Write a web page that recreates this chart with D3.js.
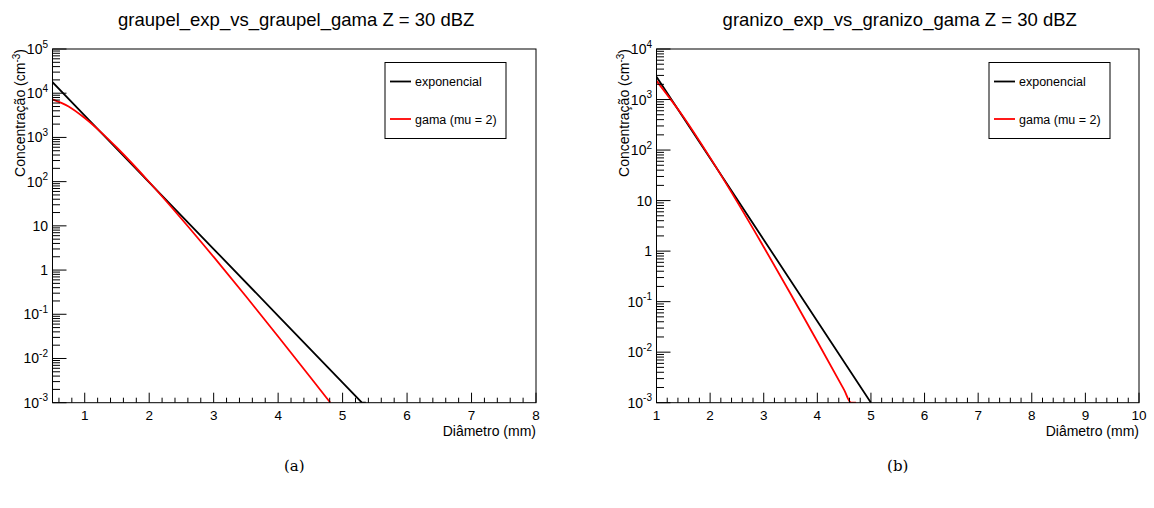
<!DOCTYPE html>
<html>
<head>
<meta charset="utf-8">
<script src="https://cdn.jsdelivr.net/npm/d3@7"></script>
<style>
  html, body { margin: 0; padding: 0; background: #fff; }
  svg { display: block; }
  text { font-family: "Liberation Sans", Arial, sans-serif; fill: #000; }
  .caption { font-family: "DejaVu Serif", "Liberation Serif", serif; }
</style>
</head>
<body>
<svg id="chart" width="1154" height="508"></svg>
<script>
// Panel titles and captions
const titles = ["graupel_exp_vs_graupel_gama Z = 30 dBZ", "granizo_exp_vs_granizo_gama Z = 30 dBZ"];
const captions = ["(a)", "(b)"];
const legendLabels = ["exponencial", "gama (mu = 2)"];
const xLabel = "Diâmetro (mm)";

// Graupel: diameter (mm) and concentration (cm^-3)
const graupelExpD = [0.5, 1, 2, 3, 4, 5, 5.3, 5.36];
const graupelExpN = [17800, 3130, 96.6, 2.99, 0.0923, 0.00285, 0.00100, 0.00085];
const graupelGamD = [0.5, 0.75, 1, 1.25, 1.5, 2, 2.5, 3, 3.5, 4, 4.5, 4.81];
const graupelGamN = [7240, 5010, 2740, 1320, 584, 98.2, 14.5, 1.98, 0.255, 0.0315, 0.00377, 0.00100];

// Hail (granizo)
const granizoExpD = [1, 2, 3, 4, 5];
const granizoExpN = [2820, 68.8, 1.68, 0.041, 0.00100];
const granizoGamD = [1, 1.5, 2, 2.5, 3, 3.5, 4, 4.5, 4.63, 4.72];
const granizoGamN = [2344, 458, 70.8, 9.64, 1.21, 0.143, 0.0163, 0.00179, 0.00100, 0.00080];

// Axis domains and ticks
const graupelXDomain = [0.5, 8];
const graupelYDomain = [1e-3, 1e5];
const graupelXTicks = [1, 2, 3, 4, 5, 6, 7, 8];
const granizoXDomain = [1, 10];
const granizoYDomain = [1e-3, 1e4];
const granizoXTicks = [1, 2, 3, 4, 5, 6, 7, 8, 9, 10];

const svg = d3.select("#chart");

const panels = [
  {
    title: titles[0], caption: captions[0],
    x0: 52.5, x1: 536, y0: 49, y1: 402.7,
    xDomain: graupelXDomain, yDomain: graupelYDomain, xTicks: graupelXTicks,
    legend: { x: 385, y: 62.5, w: 121, h: 76 },
    series: [
      { d: graupelExpD, n: graupelExpN, color: "#000000", curve: d3.curveLinear },
      { d: graupelGamD, n: graupelGamN, color: "#ff0000", curve: d3.curveMonotoneX }
    ]
  },
  {
    title: titles[1], caption: captions[1],
    x0: 656.5, x1: 1139, y0: 49, y1: 402.7,
    xDomain: granizoXDomain, yDomain: granizoYDomain, xTicks: granizoXTicks,
    legend: { x: 989, y: 62.5, w: 121, h: 76 },
    series: [
      { d: granizoExpD, n: granizoExpN, color: "#000000", curve: d3.curveLinear },
      { d: granizoGamD, n: granizoGamN, color: "#ff0000", curve: d3.curveMonotoneX }
    ]
  }
];

function powerLabel(sel, exp) {
  // 10^k labels, with "1" and "10" written plainly
  if (exp === 0) { sel.text("1"); return; }
  if (exp === 1) { sel.text("10"); return; }
  sel.append("tspan").text("10");
  sel.append("tspan").attr("font-size", "10px").attr("dy", "-6.5").text(String(exp));
}

panels.forEach((p, i) => {
  const g = svg.append("g");
  const x = d3.scaleLinear().domain(p.xDomain).range([p.x0, p.x1]);
  const y = d3.scaleLog().domain(p.yDomain).range([p.y1, p.y0]).clamp(true);
  const cx = (p.x0 + p.x1) / 2;

  // Title
  g.append("text").attr("x", cx + 2).attr("y", 26).attr("text-anchor", "middle")
    .attr("font-size", "18.5px").text(p.title);

  // Curves, clipped to the frame
  const clipId = "clip" + i;
  g.append("clipPath").attr("id", clipId).append("rect")
    .attr("x", p.x0).attr("y", p.y0).attr("width", p.x1 - p.x0).attr("height", p.y1 - p.y0);
  const curves = g.append("g").attr("clip-path", `url(#${clipId})`);
  p.series.forEach(s => {
    const pts = s.d.map((dv, k) => [dv, s.n[k]]);
    const line = d3.line().x(v => x(v[0])).y(v => y(v[1])).curve(s.curve);
    curves.append("path").attr("d", line(pts)).attr("fill", "none")
      .attr("stroke", s.color).attr("stroke-width", 1.8).attr("stroke-linejoin", "round");
  });

  // X axis: ticks point up into the frame
  const xMinor = d3.range(Math.ceil(p.xDomain[0] / 0.2) * 0.2, p.xDomain[1] + 1e-9, 0.2)
    .map(v => Math.round(v * 10) / 10);
  const xAxisG = g.append("g");
  xAxisG.selectAll("line.minor").data(xMinor).join("line")
    .attr("x1", d => x(d)).attr("x2", d => x(d))
    .attr("y1", p.y1).attr("y2", d => p.y1 - (Number.isInteger(d) ? 10 : 5))
    .attr("stroke", "#000").attr("stroke-width", 1);
  xAxisG.selectAll("text").data(p.xTicks).join("text")
    .attr("x", d => x(d)).attr("y", p.y1 + 17).attr("text-anchor", "middle")
    .attr("font-size", "13.5px").text(d => d);
  g.append("text").attr("x", p.x1).attr("y", p.y1 + 33).attr("text-anchor", "end")
    .attr("font-size", "14px").text(xLabel);

  // Y axis: log ticks point right into the frame
  const e0 = Math.round(Math.log10(p.yDomain[0]));
  const e1 = Math.round(Math.log10(p.yDomain[1]));
  const majors = d3.range(e0, e1 + 1);
  const minors = [];
  for (let e = e0; e < e1; e++) for (let m = 2; m <= 9; m++) minors.push(m * Math.pow(10, e));
  const yAxisG = g.append("g");
  yAxisG.selectAll("line.min").data(minors).join("line")
    .attr("x1", p.x0).attr("x2", p.x0 + 7.5)
    .attr("y1", d => y(d)).attr("y2", d => y(d))
    .attr("stroke", "#000").attr("stroke-width", 1);
  yAxisG.selectAll("line.maj").data(majors).join("line")
    .attr("x1", p.x0).attr("x2", p.x0 + 14)
    .attr("y1", d => y(Math.pow(10, d))).attr("y2", d => y(Math.pow(10, d)))
    .attr("stroke", "#000").attr("stroke-width", 1);
  majors.forEach(e => {
    const t = yAxisG.append("text").attr("x", p.x0 - 4.5).attr("y", y(Math.pow(10, e)) + 5)
      .attr("text-anchor", "end").attr("font-size", "14px");
    powerLabel(t, e);
  });

  // Y axis title
  const yt = g.append("text")
    .attr("transform", `translate(${p.x0 - 27.5},${p.y0}) rotate(-90)`)
    .attr("text-anchor", "end").attr("font-size", "14px");
  yt.append("tspan").text("Concentração (cm");
  yt.append("tspan").attr("font-size", "10px").attr("dy", "-5.5").text("-3");
  yt.append("tspan").attr("dy", "5.5").text(")");

  // Frame
  g.append("rect").attr("x", p.x0).attr("y", p.y0)
    .attr("width", p.x1 - p.x0).attr("height", p.y1 - p.y0)
    .attr("fill", "none").attr("stroke", "#000").attr("stroke-width", 1);

  // Legend
  const L = p.legend;
  const lg = g.append("g");
  lg.append("rect").attr("x", L.x).attr("y", L.y).attr("width", L.w).attr("height", L.h)
    .attr("fill", "#fff").attr("stroke", "#000").attr("stroke-width", 1);
  p.series.forEach((s, k) => {
    const yy = L.y + 19 + k * 37.5;
    lg.append("line").attr("x1", L.x + 5).attr("x2", L.x + 26).attr("y1", yy).attr("y2", yy)
      .attr("stroke", s.color).attr("stroke-width", 1.8);
    lg.append("text").attr("x", L.x + 30).attr("y", yy + 4.5).attr("font-size", "12.5px")
      .text(legendLabels[k]);
  });

  // Caption
  g.append("text").attr("class", "caption").attr("x", cx).attr("y", 471)
    .attr("text-anchor", "middle").attr("font-size", "15px").text(p.caption);
});
</script>
</body>
</html>
